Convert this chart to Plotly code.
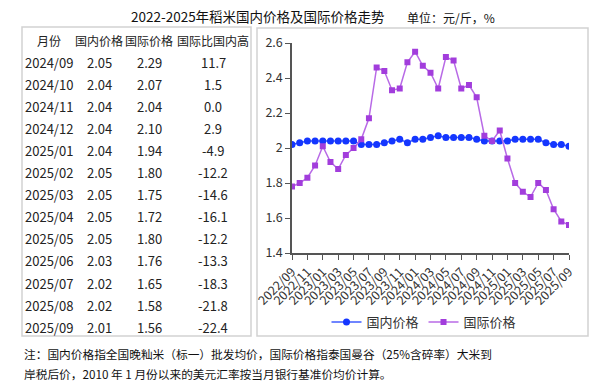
import plotly.graph_objects as go

# ---------------- data ----------------
months = []
for y in range(2022, 2026):
    for m in range(1, 13):
        if (y == 2022 and m < 9) or (y == 2025 and m > 9):
            continue
        months.append(f"{y}/{m:02d}")

domestic = [2.02, 2.03, 2.04, 2.04,
            2.04, 2.04, 2.04, 2.04, 2.04, 2.02, 2.02, 2.02, 2.03, 2.04, 2.05, 2.03,
            2.05, 2.05, 2.06, 2.07, 2.06, 2.06, 2.06, 2.06, 2.05, 2.04, 2.04, 2.04,
            2.04, 2.05, 2.05, 2.05, 2.05, 2.03, 2.02, 2.02, 2.01]
international = [1.78, 1.80, 1.83, 1.90,
                 2.01, 1.92, 1.88, 1.96, 2.00, 2.05, 2.17, 2.46, 2.44, 2.33, 2.34, 2.49,
                 2.55, 2.47, 2.43, 2.34, 2.52, 2.50, 2.34, 2.36, 2.29, 2.07, 2.04, 2.10,
                 1.94, 1.80, 1.75, 1.72, 1.80, 1.76, 1.65, 1.58, 1.56]

table_header = ["月份", "国内价格", "国际价格", "国际比国内高"]
table_months = ["2024/09", "2024/10", "2024/11", "2024/12", "2025/01", "2025/02", "2025/03",
                "2025/04", "2025/05", "2025/06", "2025/07", "2025/08", "2025/09"]
table_dom = ["2.05", "2.04", "2.04", "2.04", "2.04", "2.05", "2.05", "2.05", "2.05",
             "2.03", "2.02", "2.02", "2.01"]
table_int = ["2.29", "2.07", "2.04", "2.10", "1.94", "1.80", "1.75", "1.72", "1.80",
             "1.76", "1.65", "1.58", "1.56"]
table_diff = ["11.7", "1.5", "0.0", "2.9", "-4.9", "-12.2", "-14.6", "-16.1", "-12.2",
              "-13.3", "-18.3", "-21.8", "-22.4"]

title_text = "2022-2025年稻米国内价格及国际价格走势"
unit_text = "单位：元/斤，%"
note1 = "注：国内价格指全国晚籼米（标一）批发均价，国际价格指泰国曼谷（25%含碎率）大米到"
note2 = "岸税后价，2010 年 1 月份以来的美元汇率按当月银行基准价均价计算。"

# ---------------- layout helpers ----------------
W, H = 611, 384
PL, PR, PT, PB = 292, 569, 43, 253  # plot area in pixels


def px(x):
    return (x - PL) / (PR - PL)


def py(y):
    return (PB - y) / (PB - PT)


FONT = "Noto Sans CJK SC"

fig = go.Figure()
fig.add_trace(go.Scatter(
    x=months, y=domestic, name="国内价格", mode="lines+markers",
    line=dict(color="#3f5cff", width=1.5),
    marker=dict(symbol="circle", size=7, color="#1436ff"),
))
fig.add_trace(go.Scatter(
    x=months, y=international, name="国际价格", mode="lines+markers",
    line=dict(color="#b86ae6", width=1.5),
    marker=dict(symbol="square", size=6, color="#a23ddc"),
))

annotations = []
# title and unit
annotations.append(dict(text=title_text, x=px(258), y=py(16), xref="paper", yref="paper",
                        showarrow=False, xanchor="center", yanchor="middle",
                        font=dict(family=FONT, size=13.5, color="#111")))
annotations.append(dict(text=unit_text, x=px(451), y=py(18), xref="paper", yref="paper",
                        showarrow=False, xanchor="center", yanchor="middle",
                        font=dict(family=FONT, size=12, color="#111")))

# table
col_x = [49, 99, 149, 213]
for cx, h in zip(col_x, table_header):
    annotations.append(dict(text=h, x=px(cx), y=py(40), xref="paper", yref="paper",
                            showarrow=False, xanchor="center", yanchor="middle",
                            font=dict(family=FONT, size=12, color="#222")))
for i in range(len(table_months)):
    yy = 62 + i * 22.1
    for cx, col in zip(col_x, [table_months, table_dom, table_int, table_diff]):
        annotations.append(dict(text=col[i], x=px(cx), y=py(yy), xref="paper", yref="paper",
                                showarrow=False, xanchor="center", yanchor="middle",
                                font=dict(family=FONT, size=13, color="#222")))

# footnote
annotations.append(dict(text=note1, x=px(22), y=py(353), xref="paper", yref="paper",
                        showarrow=False, xanchor="left", yanchor="middle",
                        font=dict(family=FONT, size=11.7, color="#111")))
annotations.append(dict(text=note2, x=px(22), y=py(373), xref="paper", yref="paper",
                        showarrow=False, xanchor="left", yanchor="middle",
                        font=dict(family=FONT, size=11.7, color="#111")))

shapes = [
    dict(type="rect", xref="paper", yref="paper", x0=px(22), x1=px(251), y0=py(27), y1=py(336),
         line=dict(color="#d2d2d2", width=1.5), fillcolor="rgba(0,0,0,0)", layer="below"),
    dict(type="rect", xref="paper", yref="paper", x0=px(257), x1=px(588), y0=py(28), y1=py(336),
         line=dict(color="#d2d2d2", width=1.5), fillcolor="rgba(0,0,0,0)", layer="below"),
]

fig.update_layout(
    width=W, height=H,
    margin=dict(l=PL, r=W - PR, t=PT, b=H - PB, pad=0),
    paper_bgcolor="white", plot_bgcolor="white",
    font=dict(family=FONT, color="#333"),
    showlegend=True,
    legend=dict(orientation="h", x=px(424), y=py(322), xanchor="center", yanchor="middle",
                font=dict(family=FONT, size=13, color="#333"), itemwidth=30,
                bgcolor="rgba(0,0,0,0)"),
    annotations=annotations,
    shapes=shapes,
)
fig.update_xaxes(
    type="category", range=[0, len(months) - 1],
    tickvals=months[::2], ticktext=months[::2], tickangle=-45,
    ticks="outside", ticklen=5, tickcolor="#555", tickwidth=1.2,
    showline=True, linecolor="#555", linewidth=1.5, showgrid=False, zeroline=False,
    tickfont=dict(family=FONT, size=12.5, color="#333"),
)
fig.update_yaxes(
    range=[1.4, 2.6], dtick=0.2, tick0=1.4,
    ticks="outside", ticklen=5, tickcolor="#555", tickwidth=1.2,
    showline=True, linecolor="#555", linewidth=1.5, showgrid=False, zeroline=False,
    tickfont=dict(family=FONT, size=12.5, color="#333"),
)

fig.write_html("out.html", config={"displayModeBar": False},
               post_script="document.body.style.margin='0';document.body.style.padding='0';")
